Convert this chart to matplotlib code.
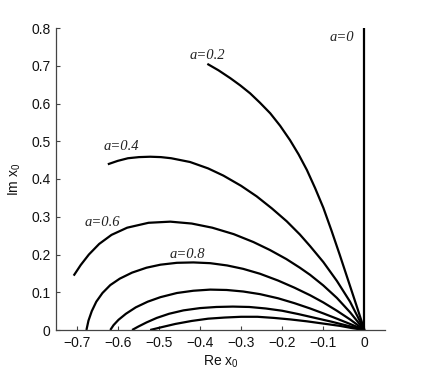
import matplotlib
matplotlib.use("Agg")
import matplotlib.pyplot as plt

# ---- data ----
a0_x = [0.0, 0.0]
a0_y = [0.0, 0.8]

a02_x = [-0.382, -0.355, -0.326, -0.302, -0.278, -0.254, -0.229, -0.205, -0.181, -0.160,
         -0.140, -0.120, -0.100, -0.080, -0.060, -0.040, -0.020, 0.0]
a02_y = [0.705, 0.688, 0.667, 0.648, 0.627, 0.602, 0.574, 0.541, 0.503, 0.465,
         0.424, 0.376, 0.324, 0.263, 0.199, 0.133, 0.067, 0.0]

a04_x = [-0.624, -0.600, -0.575, -0.548, -0.521, -0.495, -0.470, -0.424, -0.380, -0.343,
         -0.300, -0.262, -0.225, -0.189, -0.157, -0.132, -0.100, -0.067, -0.035, 0.0]
a04_y = [0.439, 0.448, 0.455, 0.458, 0.459, 0.458, 0.455, 0.445, 0.428, 0.409,
         0.382, 0.354, 0.322, 0.288, 0.253, 0.222, 0.180, 0.130, 0.075, 0.0]

a06_x = [-0.707, -0.690, -0.670, -0.645, -0.615, -0.577, -0.525, -0.472, -0.420, -0.370,
         -0.318, -0.270, -0.230, -0.190, -0.157, -0.132, -0.100, -0.067, -0.035, 0.0]
a06_y = [0.144, 0.172, 0.200, 0.228, 0.252, 0.271, 0.284, 0.287, 0.282, 0.271,
         0.254, 0.233, 0.212, 0.188, 0.165, 0.146, 0.118, 0.085, 0.047, 0.0]

a08_x = [-0.676, -0.671, -0.663, -0.652, -0.637, -0.618, -0.595, -0.565, -0.530, -0.496,
         -0.456, -0.416, -0.375, -0.334, -0.295, -0.254, -0.210, -0.170, -0.132, -0.100,
         -0.067, -0.035, 0.0]
a08_y = [0.0, 0.025, 0.050, 0.075, 0.098, 0.119, 0.136, 0.152, 0.165, 0.173,
         0.178, 0.179, 0.177, 0.171, 0.162, 0.149, 0.131, 0.112, 0.092, 0.073,
         0.051, 0.028, 0.0]

a10_x = [-0.618, -0.610, -0.598, -0.580, -0.556, -0.527, -0.496, -0.456, -0.416, -0.375,
         -0.335, -0.295, -0.254, -0.210, -0.170, -0.132, -0.100, -0.067, -0.035, 0.0]
a10_y = [0.0, 0.013, 0.027, 0.043, 0.060, 0.075, 0.087, 0.098, 0.104, 0.107,
         0.106, 0.102, 0.095, 0.084, 0.071, 0.057, 0.044, 0.030, 0.016, 0.0]

a12_x = [-0.565, -0.550, -0.530, -0.505, -0.475, -0.440, -0.400, -0.360, -0.320, -0.280,
         -0.240, -0.200, -0.160, -0.120, -0.080, -0.040, 0.0]
a12_y = [0.0, 0.009, 0.020, 0.032, 0.043, 0.052, 0.058, 0.061, 0.062, 0.061,
         0.057, 0.051, 0.042, 0.032, 0.022, 0.011, 0.0]

a14_x = [-0.521, -0.495, -0.460, -0.420, -0.380, -0.340, -0.300, -0.260, -0.220, -0.180,
         -0.140, -0.100, -0.060, -0.030, 0.0]
a14_y = [0.0, 0.007, 0.016, 0.024, 0.030, 0.033, 0.035, 0.035, 0.032, 0.028,
         0.023, 0.017, 0.011, 0.005, 0.0]

curves = [(a0_x, a0_y), (a02_x, a02_y), (a04_x, a04_y), (a06_x, a06_y),
          (a08_x, a08_y), (a10_x, a10_y), (a12_x, a12_y), (a14_x, a14_y)]

label_texts = ["a=0", "a=0.2", "a=0.4", "a=0.6", "a=0.8"]
label_x = [-0.055, -0.381, -0.592, -0.637, -0.431]
label_y = [0.776, 0.728, 0.486, 0.285, 0.201]

x_ticks = [-0.7, -0.6, -0.5, -0.4, -0.3, -0.2, -0.1, 0.0]
x_ticklabels = ["\u22120.7", "\u22120.6", "\u22120.5", "\u22120.4", "\u22120.3", "\u22120.2", "\u22120.1", "0"]
y_ticks = [0.0, 0.1, 0.2, 0.3, 0.4, 0.5, 0.6, 0.7, 0.8]
y_ticklabels = ["0", "0.1", "0.2", "0.3", "0.4", "0.5", "0.6", "0.7", "0.8"]

# ---- figure ----
plt.rcParams['font.family'] = ['Liberation Sans', 'DejaVu Sans']
fig = plt.figure(figsize=(4.25, 3.77), dpi=100)
ax = fig.add_axes([56 / 425, 1 - 330 / 377, (385 - 56) / 425, (330 - 28) / 377])

for cx, cy in curves:
    ax.plot(cx, cy, color='black', lw=1.6, solid_capstyle='butt',
            solid_joinstyle='round', clip_on=True)

for t, lx, ly in zip(label_texts, label_x, label_y):
    ax.text(lx, ly, t, family=['Liberation Serif', 'DejaVu Serif'], style='italic',
            fontsize=10.5, ha='center', va='center', color='#222222')

ax.set_xlim(-0.75, 0.05)
ax.set_ylim(0, 0.8)
ax.set_xticks(x_ticks)
ax.set_xticklabels(x_ticklabels)
ax.set_yticks(y_ticks)
ax.set_yticklabels(y_ticklabels)

for s in ['top', 'right']:
    ax.spines[s].set_visible(False)
for s in ['left', 'bottom']:
    ax.spines[s].set_color('#444444')
    ax.spines[s].set_linewidth(0.9)

ax.tick_params(direction='in', length=3, width=0.8, color='#444444',
               labelsize=10, pad=4, labelcolor='#111111')

ax.set_xlabel(r'Re $\mathregular{x_0}$', fontsize=10, labelpad=3, color='#111111')
ax.set_ylabel(r'Im $\mathregular{x_0}$', fontsize=10, labelpad=6, color='#111111')

fig.savefig('out.png', dpi=100)
